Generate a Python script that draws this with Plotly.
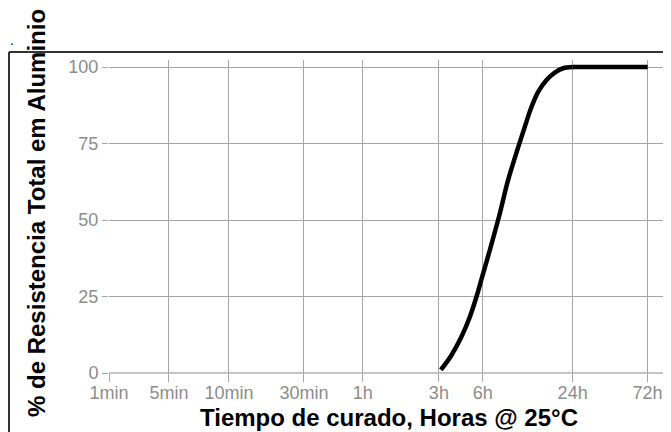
import plotly.graph_objects as go

# tick categories (custom, non-uniform time axis)
tick_labels = ["1min", "5min", "10min", "30min", "1h", "3h", "6h", "24h", "72h"]
tick_pos = [0, 1.0, 2.0, 3.25, 4.23, 5.5, 6.23, 7.73, 8.98]

# curve (x in same axis units)
curve_x = [5.533, 5.712, 5.878, 6.017, 6.128, 6.238, 6.35, 6.517, 6.655,
           6.933, 7.045, 7.155, 7.295, 7.433, 7.572, 7.73]
curve_y = [1, 5.9, 11.9, 18.4, 25, 32.6, 40.2, 52.2, 63.1,
           80.5, 87, 91.9, 95.8, 98.2, 99.6, 100]
plateau_x = [7.73, 8.98]
plateau_y = [100, 100]

y_ticks = [0, 25, 50, 75, 100]

OFF = 8  # default page margin of the html body
W, H = 671 - OFF, 432 - OFF
ml, mr, mt, mb = 109 - OFF, 0, 60 - OFF, H - (373 - OFF)
pw, ph = W - ml - mr, H - mt - mb

def px_x(p):
    return (p - OFF - ml) / pw

def px_y(p):
    return (H - mb - (p - OFF)) / ph

fig = go.Figure()
fig.add_trace(go.Scatter(
    x=curve_x, y=curve_y, mode="lines",
    line=dict(color="black", width=4.5, shape="spline", smoothing=1.0),
    showlegend=False, hoverinfo="skip",
))
fig.add_trace(go.Scatter(
    x=plateau_x, y=plateau_y, mode="lines",
    line=dict(color="black", width=4.5),
    showlegend=False, hoverinfo="skip",
))

font_fam = "Arial, Liberation Sans, sans-serif"
fig.update_layout(
    width=W, height=H,
    margin=dict(l=ml, r=mr, t=mt, b=mb, pad=0),
    paper_bgcolor="white", plot_bgcolor="white",
    font=dict(family=font_fam),
    xaxis=dict(
        range=[0, 9.37], tickmode="array", tickvals=tick_pos, ticktext=tick_labels,
        showgrid=True, gridcolor="#a6a6a6", gridwidth=1,
        ticks="outside", ticklen=8, tickcolor="#a6a6a6", ticklabelstandoff=-5,
        tickfont=dict(size=18, color="#8c8c8c", family=font_fam),
        zeroline=False, showline=False, fixedrange=True,
    ),
    yaxis=dict(
        range=[0, 102.3], tickmode="array", tickvals=y_ticks,
        ticktext=[str(v) for v in y_ticks],
        showgrid=True, gridcolor="#a6a6a6", gridwidth=1,
        ticks="outside", ticklen=6, tickcolor="#a6a6a6",
        tickfont=dict(size=18, color="#8c8c8c", family=font_fam),
        zeroline=False, showline=False, fixedrange=True,
    ),
    shapes=[
        dict(type="line", xref="paper", yref="paper",
             x0=px_x(9), x1=px_x(9), y0=px_y(52), y1=px_y(440),
             line=dict(color="#333333", width=2)),
        dict(type="line", xref="paper", yref="paper",
             x0=px_x(9), x1=px_x(680), y0=px_y(52), y1=px_y(52),
             line=dict(color="#333333", width=2)),
        dict(type="line", xref="paper", yref="paper",
             x0=0, x1=1, y0=0, y1=0,
             line=dict(color="#8c8c8c", width=1)),
    ],
    annotations=[
        dict(text="Tiempo de curado, Horas @ 25°C", xref="paper", yref="paper",
             x=px_x(389), y=px_y(417), xanchor="center", yanchor="middle",
             showarrow=False, font=dict(size=24, color="black", family=font_fam, weight="bold")),
        dict(text="% de Resistencia Total em Aluminio", xref="paper", yref="paper",
             x=px_x(36), y=px_y(213), xanchor="center", yanchor="middle", textangle=-90,
             showarrow=False, font=dict(size=24, color="black", family=font_fam, weight="bold")),
        dict(text=".", xref="paper", yref="paper",
             x=px_x(12), y=px_y(40), xanchor="center", yanchor="middle",
             showarrow=False, font=dict(size=14, color="black", family=font_fam)),
    ],
)

fig.write_html("out.html")
